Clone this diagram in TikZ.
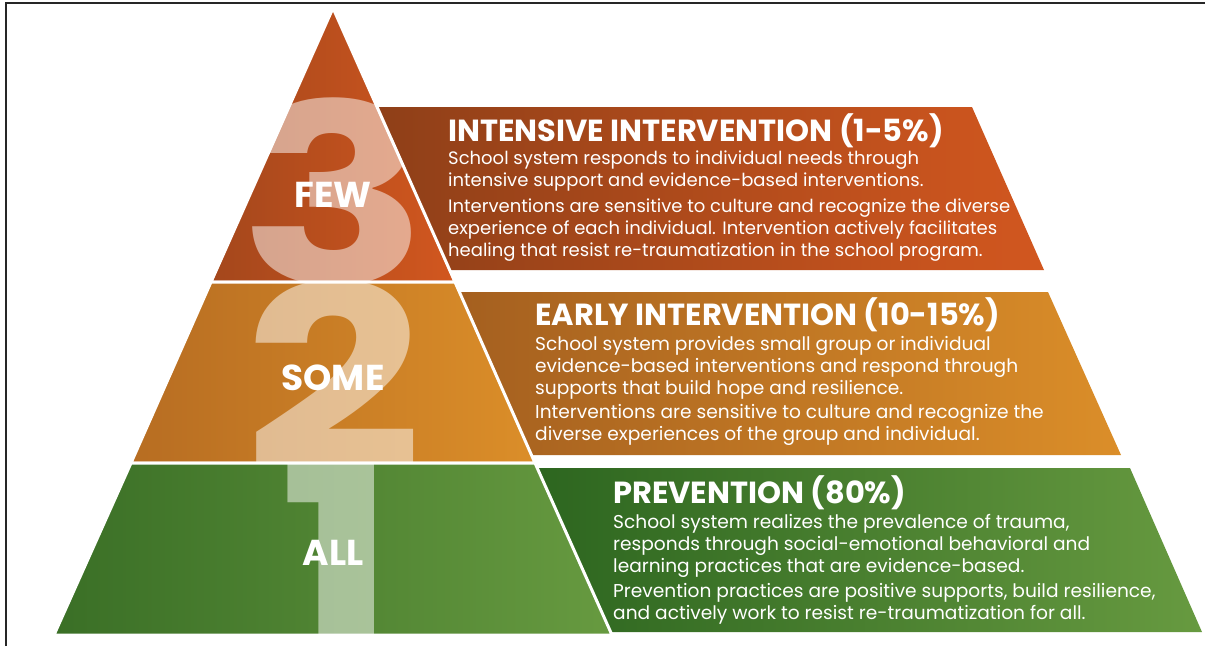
\documentclass[tikz,border=0pt]{standalone}
\usepackage{fontspec}
\setmainfont{Poppins}
\usetikzlibrary{positioning}
\definecolor{fewleft}{HTML}{A4471C}
\definecolor{fewright}{HTML}{D2571F}
\definecolor{fewbandleft}{HTML}{8E3F18}
\definecolor{someleft}{HTML}{B76D22}
\definecolor{someright}{HTML}{DB8E29}
\definecolor{somebandleft}{HTML}{A45F1F}
\definecolor{allleft}{HTML}{3A6F26}
\definecolor{allright}{HTML}{679A40}
\definecolor{allbandleft}{HTML}{2C651F}
\newcommand{\widenum}[1]{\scalebox{1.25}[1]{#1}}
\tikzset{
    tier/.style={draw=white, line width=3pt, line join=miter},
    band/.style={draw=none},
    bignum/.style={text=white, text opacity=0.5, font=\bfseries\fontsize{250}{250}\selectfont, inner sep=0pt, anchor=base},
    tierlabel/.style={text=white, font=\bfseries\fontsize{36}{36}\selectfont, inner sep=0pt},
    heading/.style={text=white, font=\bfseries\fontsize{30.5}{30.5}\selectfont, inner sep=0pt, anchor=base west},
    body/.style={text=white, font=\fontsize{18.6}{22}\selectfont, align=left, inner sep=0pt, anchor=north west}
}
\begin{document}
\begin{tikzpicture}[x=1pt, y=-1pt]
    \useasboundingbox (0,0) rectangle (1205,646);
    \draw[line width=2pt, black!85] (6,646) -- (6,3) -- (1205,3);

    % Bands behind the pyramid
    \path[band, left color=fewbandleft, right color=fewright] (370,107) -- (972,107) -- (1044,270) -- (443,270) -- cycle;
    \path[band, left color=somebandleft, right color=someright] (450,292) -- (1048,292) -- (1121,455) -- (523,455) -- cycle;
    \path[band, left color=allbandleft, right color=allright] (528,468) -- (1130,468) -- (1202,632) -- (601,632) -- cycle;

    % Pyramid tiers with the big numbers
    \path[tier, left color=fewleft, right color=fewright,
        path picture={\node[bignum] (num3) at (334,284) {\widenum{3}};}]
        (333,8) -- (455,282) -- (211,282) -- cycle;
    \path[tier, left color=someleft, right color=someright,
        path picture={\node[bignum] (num2) at (334,466) {\widenum{2}};}]
        (211,282) -- (455,282) -- (535,463) -- (131,463) -- cycle;
    \path[tier, left color=allleft, right color=allright,
        path picture={\node[bignum] (num1) at (338,645) {\widenum{1}};}]
        (131,463) -- (535,463) -- (612,635) -- (54,635) -- cycle;

    \node[tierlabel] (few) at (333,195) {FEW};
    \node[tierlabel] (some) at (333,378) {SOME};
    \node[tierlabel] (all) at (333,553) {ALL};

    % Texts in the bands
    \node[heading] (head3) at (448,141) {INTENSIVE INTERVENTION (1-5\%)};
    \node[body, font=\fontsize{18}{22}\selectfont] (body3) at (448,151) {School system responds to individual needs through\\
        intensive support and evidence-based interventions.\\[3.5pt]
        Interventions are sensitive to culture and recognize the diverse\\
        experience of each individual. Intervention actively facilitates\\
        healing that resist re-traumatization in the school program.};

    \node[heading] (head2) at (535,325) {EARLY INTERVENTION (10-15\%)};
    \node[body] (body2) at (535,336) {School system provides small group or individual\\
        evidence-based interventions and respond through\\
        supports that build hope and resilience.\\[2.5pt]
        Interventions are sensitive to culture and recognize the\\
        diverse experiences of the group and individual.};

    \node[heading] (head1) at (613,503) {PREVENTION (80\%)};
    \node[body] (body1) at (613,514) {School system realizes the prevalence of trauma,\\
        responds through social-emotional behavioral and\\
        learning practices that are evidence-based.\\[3.5pt]
        Prevention practices are positive supports, build resilience,\\
        and actively work to resist re-traumatization for all.};
\end{tikzpicture}
\end{document}
